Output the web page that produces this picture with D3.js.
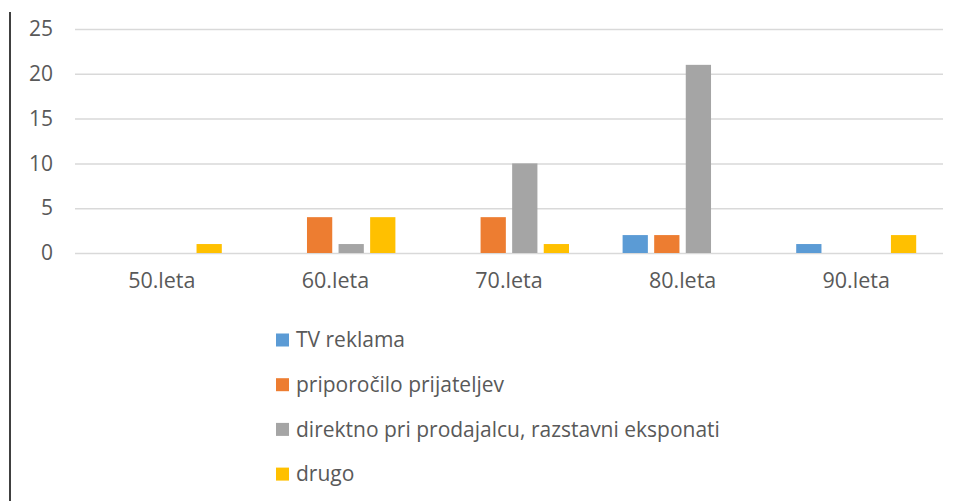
<html>
<head>
<meta charset="utf-8">
<script src="https://d3js.org/d3.v7.min.js"></script>
<style>
  body { margin: 0; background: #fff; }
  text { font-family: "Open Sans", sans-serif; fill: #595959; }
</style>
</head>
<body>
<script>
var categories = ["50.leta", "60.leta", "70.leta", "80.leta", "90.leta"];
var seriesNames = ["TV reklama", "priporočilo prijateljev", "direktno pri prodajalcu, razstavni eksponati", "drugo"];
var tvReklama = [0, 0, 0, 2, 1];
var priporocilo = [0, 4, 4, 2, 0];
var direktno = [0, 1, 10, 21, 0];
var drugo = [1, 4, 1, 0, 2];
var yTicks = [0, 5, 10, 15, 20, 25];
var colors = ["#5B9BD5", "#ED7D31", "#A5A5A5", "#FFC000"];

var seriesValues = [tvReklama, priporocilo, direktno, drugo];

var w = 961, h = 501;
var svg = d3.select("body").append("svg").attr("width", w).attr("height", h);

// left border line
svg.append("line").attr("x1", 10).attr("x2", 10).attr("y1", 12).attr("y2", h)
  .attr("stroke", "#404040").attr("stroke-width", 2);

var x0 = d3.scaleBand().domain(categories).range([75, 943]).padding(0);
var groupW = 120;
var off = (x0.bandwidth() - groupW) / 2;
var x1 = d3.scaleBand().domain(d3.range(seriesNames.length)).range([off, off + groupW]).paddingInner(0.2).paddingOuter(0);
var y = d3.scaleLinear().domain([0, 25]).range([253, 29]);

// gridlines + y labels
var yAxis = d3.axisLeft(y).tickValues(yTicks).tickSize(-(943 - 75)).tickPadding(22);
var yg = svg.append("g").attr("transform", "translate(75,0)").call(yAxis);
yg.select(".domain").remove();
yg.selectAll(".tick line").attr("stroke", "#d9d9d9").attr("stroke-width", 1.5);
yg.selectAll(".tick text").attr("font-size", 21).attr("fill", "#595959").attr("font-family", "Open Sans");

// bars
var groups = svg.selectAll("g.cat").data(categories).enter().append("g")
  .attr("class", "cat")
  .attr("transform", function(d){ return "translate(" + x0(d) + ",0)"; });

groups.each(function(cat, ci){
  d3.select(this).selectAll("rect").data(seriesValues.map(function(s, si){ return {si: si, v: s[ci]}; }))
    .enter().append("rect")
    .filter(function(d){ return d.v > 0; })
    .attr("x", function(d){ return x1(d.si); })
    .attr("width", x1.bandwidth())
    .attr("y", function(d){ return y(d.v); })
    .attr("height", function(d){ return y(0) - y(d.v); })
    .attr("fill", function(d){ return colors[d.si]; });
});

// x axis labels
var xAxis = d3.axisBottom(x0).tickSize(0).tickPadding(20);
var xg = svg.append("g").attr("transform", "translate(0,253)").call(xAxis);
xg.select(".domain").remove();
xg.selectAll(".tick text").attr("font-size", 21.5).attr("fill", "#595959").attr("font-family", "Open Sans");

// legend
var legend = svg.selectAll("g.leg").data(seriesNames).enter().append("g")
  .attr("class", "leg")
  .attr("transform", function(d, i){ return "translate(276," + (340 + i * 44.7) + ")"; });
legend.append("rect").attr("x", 0).attr("y", -6.5).attr("width", 13).attr("height", 13)
  .attr("fill", function(d, i){ return colors[i]; });
legend.append("text").attr("x", 20).attr("y", 0).attr("dy", "0.35em")
  .attr("font-size", 21).text(function(d){ return d; });
</script>
</body>
</html>
